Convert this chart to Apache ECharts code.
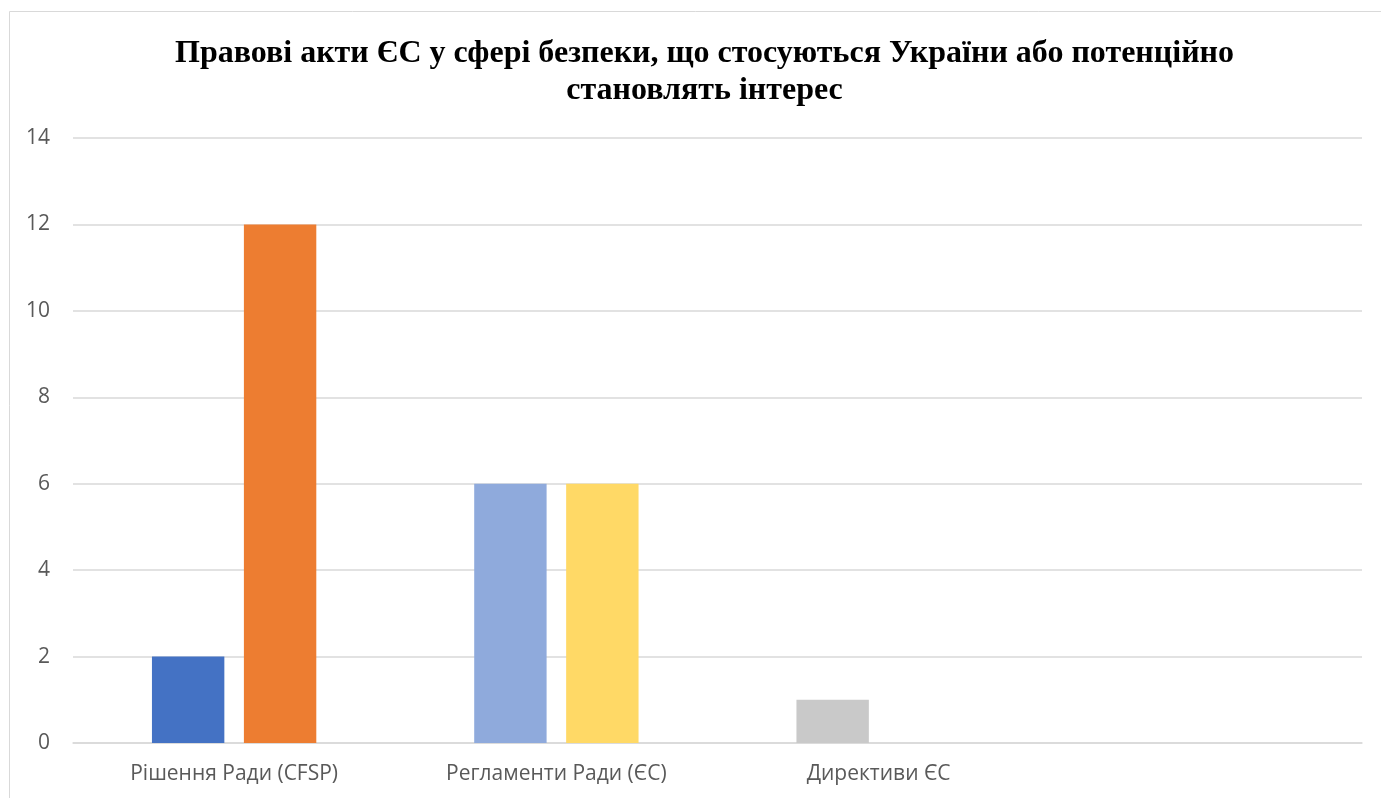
<!DOCTYPE html>
<html>
<head>
<meta charset="utf-8">
<script src="https://cdn.jsdelivr.net/npm/echarts@6/dist/echarts.min.js"></script>
<style>
  html, body { margin: 0; padding: 0; background: #fff; }
  #chart { width: 1381px; height: 798px; }
</style>
</head>
<body>
<div id="chart"></div>
<script>
const titleText = 'Правові акти ЄС у сфері безпеки, що стосуються України або потенційно\nстановлять інтерес';
const categories = ['Рішення Ради (CFSP)', 'Регламенти Ради (ЄС)', 'Директиви ЄС', ''];
// two clustered slots per category, each bar coloured on its own
const firstSlot = [2, 6, 1, null];
const secondSlot = [12, 6, null, null];
const firstColors = ['#4472C4', '#8FAADC', '#C9C9C9', '#C9C9C9'];
const secondColors = ['#ED7D31', '#FFD966', '#FFD966', '#FFD966'];

const chart = echarts.init(document.getElementById('chart'));

const toItems = (vals, colors) => vals.map((v, i) => ({
  value: v,
  itemStyle: { color: colors[i] }
}));

const option = {
  animation: false,
  textStyle: { fontFamily: 'Open Sans' },
  graphic: [{
    type: 'rect',
    shape: { x: 9.5, y: 11.5, width: 1420, height: 820 },
    style: { fill: 'none', stroke: '#d9d9d9', lineWidth: 1 },
    silent: true
  }],
  title: {
    text: titleText,
    left: 699.5,
    top: 30,
    textAlign: 'center',
    textStyle: {
      fontFamily: 'Liberation Serif',
      fontWeight: 'bold',
      fontSize: 32,
      lineHeight: 37,
      color: '#000'
    }
  },
  grid: { left: 73, right: 19, top: 138, bottom: 55 },
  xAxis: {
    type: 'category',
    data: categories,
    axisLine: { lineStyle: { color: '#d9d9d9', width: 1.5 } },
    axisTick: { show: false },
    axisLabel: { color: '#595959', fontSize: 21, margin: 21, fontFamily: 'Open Sans' }
  },
  yAxis: {
    type: 'value',
    min: 0,
    max: 14,
    interval: 2,
    axisLine: { show: false },
    axisTick: { show: false },
    axisLabel: { color: '#595959', fontSize: 21, margin: 23, fontFamily: 'Open Sans' },
    splitLine: { lineStyle: { color: '#d9d9d9', width: 1.5 } }
  },
  series: [
    {
      type: 'bar',
      data: toItems(firstSlot, firstColors),
      barGap: '27%',
      barCategoryGap: '49%'
    },
    {
      type: 'bar',
      data: toItems(secondSlot, secondColors)
    }
  ]
};

chart.setOption(option);
</script>
</body>
</html>
